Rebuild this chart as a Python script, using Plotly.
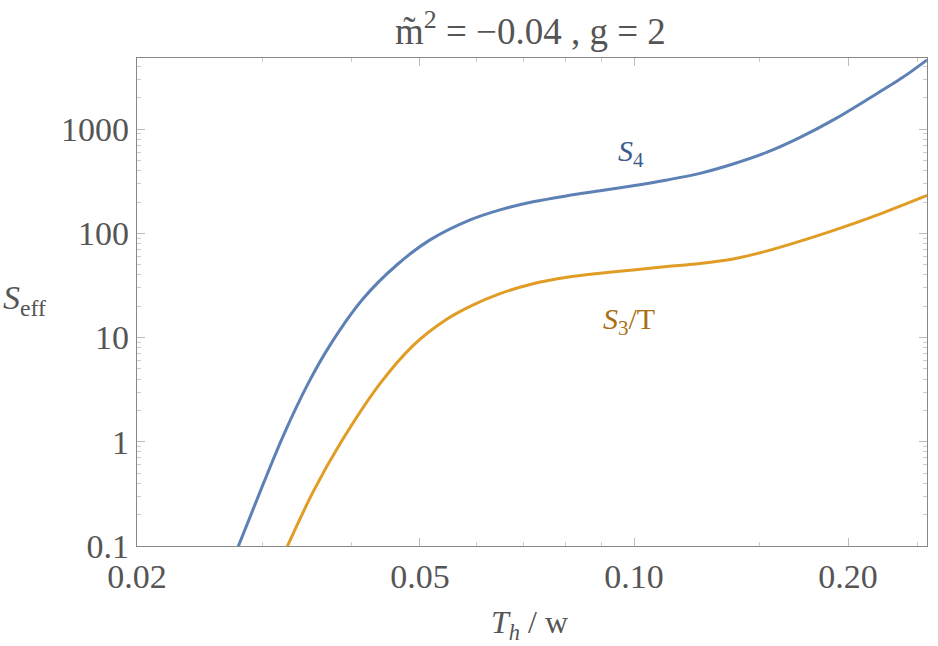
import plotly.graph_objects as go

# ---- data ----
s4_x = [0.02774, 0.03008, 0.03209, 0.03480, 0.03737, 0.04158, 0.04642, 0.05166,
        0.05882, 0.06480, 0.07212, 0.08051, 0.08959, 0.09970, 0.1113, 0.1238,
        0.1378, 0.1539, 0.1718, 0.1918, 0.2134, 0.2382, 0.2583]
s4_y = [0.0978, 0.390, 1.129, 3.613, 8.47, 23.56, 50.0, 86.6,
        134.8, 168.3, 200.9, 229.4, 256.3, 286.2, 325.4, 376.6,
        462.8, 600.9, 843, 1256, 1948, 3107, 4628]

s3t_x = [0.03251, 0.03537, 0.03860, 0.04393, 0.04889, 0.05458, 0.05882, 0.06480,
         0.07212, 0.08051, 0.08959, 0.09970, 0.1113, 0.1238, 0.1378, 0.1539,
         0.1718, 0.1918, 0.2134, 0.2382, 0.2583]
s3t_y = [0.0978, 0.3306, 0.957, 3.613, 8.38, 15.06, 19.95, 26.38,
         32.84, 37.92, 41.43, 44.58, 48.06, 51.46, 56.87, 67.88,
         84.70, 108.1, 139.4, 185.9, 231.9]

x_major = [0.02, 0.05, 0.10, 0.20]
x_major_text = ["0.02", "0.05", "0.10", "0.20"]
x_minor = [0.03, 0.04, 0.06, 0.07, 0.08, 0.09, 0.15, 0.25]
y_major = [0.1, 1, 10, 100, 1000]
y_major_text = ["0.1", "1", "10", "100", "1000"]
y_minor = [m * 10 ** e for e in range(-1, 4) for m in range(2, 10)]

BLUE = "#5e81b5"
ORANGE = "#e09c24"
FONT = "Liberation Serif"
GRAY = "#555555"

fig = go.Figure()
fig.add_trace(go.Scatter(x=s4_x, y=s4_y, mode="lines",
                         line=dict(color=BLUE, width=3, shape="spline", smoothing=0.9),
                         showlegend=False))
fig.add_trace(go.Scatter(x=s3t_x, y=s3t_y, mode="lines",
                         line=dict(color=ORANGE, width=3, shape="spline", smoothing=0.9),
                         showlegend=False))

axis_common = dict(
    type="log", showgrid=False, zeroline=False,
    showline=True, linecolor="#888888", linewidth=1.2, mirror="allticks",
    ticks="inside", ticklen=8, tickcolor="#bbbbbb", tickwidth=1,
    tickfont=dict(family=FONT, size=34, color=GRAY),
)

fig.update_xaxes(**axis_common, range=[-1.69897, -0.588],
                 tickvals=x_major, ticktext=x_major_text,
                 minor=dict(tickvals=x_minor, ticks="inside", ticklen=4,
                            tickcolor="#cccccc", showgrid=False))
fig.update_yaxes(**axis_common, range=[-1, 3.683],
                 tickvals=y_major, ticktext=y_major_text,
                 minor=dict(tickvals=y_minor, ticks="inside", ticklen=4,
                            tickcolor="#cccccc", showgrid=False))

fig.update_layout(
    width=938, height=646,
    margin=dict(l=137, r=11, t=58, b=100),
    paper_bgcolor="white", plot_bgcolor="white",
    font=dict(family=FONT, color=GRAY),
    annotations=[
        dict(text="m\u0303<sup>2</sup> = \u22120.04 , g = 2", xref="paper", yref="paper",
             x=0.4975, y=1.061, xanchor="center", yanchor="middle", showarrow=False,
             font=dict(family=FONT, size=37, color=GRAY)),
        dict(text="<i>S</i><sub>eff</sub>", xref="paper", yref="paper",
             x=-0.142, y=0.505, xanchor="center", yanchor="middle", showarrow=False,
             font=dict(family=FONT, size=34, color=GRAY)),
        dict(text="<i>T</i><sub><i>h</i></sub> / w", xref="paper", yref="paper",
             x=0.497, y=-0.16, xanchor="center", yanchor="middle", showarrow=False,
             font=dict(family=FONT, size=32, color=GRAY)),
        dict(text="<i>S</i><sub>4</sub>", x=-1.0043, y=2.77, xref="x", yref="y",
             xanchor="center", yanchor="middle", showarrow=False,
             font=dict(family=FONT, size=30, color="#3e5b8c")),
        dict(text="<i>S</i><sub>3</sub>/T", x=-1.0066, y=1.16, xref="x", yref="y",
             xanchor="center", yanchor="middle", showarrow=False,
             font=dict(family=FONT, size=30, color="#a96f13")),
    ],
)

fig.write_html("out.html")
